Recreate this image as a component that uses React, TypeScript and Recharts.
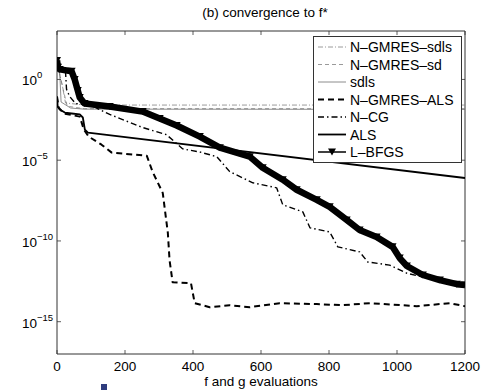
import React from 'react';
import { LineChart, Line, XAxis, YAxis, ReferenceArea, Legend } from 'recharts';

const FONT = '"Liberation Sans", Arial, Helvetica, sans-serif';

// layout constants (frame of the plot area)
const W = 489;
const H = 390;
const PLOT_LEFT = 57;
const PLOT_RIGHT = 465;
const PLOT_TOP = 31;
const PLOT_BOTTOM = 354;

const xTicks = [0, 200, 400, 600, 800, 1000, 1200];
const yTicks = [1, 1e-5, 1e-10, 1e-15];
const xDomain = [0, 1200];
const yDomain = [1e-17, 1e3];

const title = '(b) convergence to f*';
const xLabel = 'f and g evaluations';

// ---- series data (f and g evaluations, f - f*) ----
const ngmresSdlsEvals = [0, 5, 15, 25, 80, 1200];
const ngmresSdlsValues = [15.1, 3.5, 0.5, 0.035, 0.026, 0.026];

const ngmresSdEvals = [0, 5, 18, 30, 80, 1200];
const ngmresSdValues = [15.1, 3.5, 0.25, 0.022, 0.0155, 0.0155];

const sdlsEvals = [0, 8, 12, 40, 80, 1200];
const sdlsValues = [15.1, 2.5, 0.04, 0.017, 0.0145, 0.014];

const ngmresAlsEvals = [0, 5, 20, 67, 79, 93, 131, 161, 264, 281, 311, 326, 331, 340, 394, 405, 449, 508, 567, 655, 764, 840, 920, 1058, 1155, 1200];
const ngmresAlsValues = [0.087, 0.018, 7.8e-3, 5.0e-3, 7.8e-4, 2.9e-4, 9.1e-5, 2.95e-5, 1.9e-5, 1.95e-6, 9.5e-8, 3.2e-10, 6.6e-12, 2.8e-13, 2.45e-13, 1.41e-14, 7.9e-15, 1.05e-14, 7.9e-15, 1.41e-14, 1.23e-14, 1.05e-14, 1.41e-14, 9.1e-15, 1.41e-14, 9.1e-15];

const ncgEvals = [0, 25, 28, 37, 55, 100, 155, 252, 322, 370, 420, 470, 508, 576, 646, 664, 723, 744, 802, 826, 890, 914, 978, 1028, 1076, 1200];
const ncgValues = [15.1, 3.2, 0.25, 0.089, 0.032, 0.025, 6.8e-3, 1.05e-3, 3.8e-4, 5.0e-5, 3.2e-5, 1.66e-5, 1.95e-6, 4.0e-7, 1.95e-7, 1.74e-8, 6.3e-9, 6.5e-10, 3.6e-10, 4.3e-11, 2.1e-11, 5.0e-12, 3.2e-12, 1.02e-12, 5.8e-13, 1.86e-13];

const alsEvals = [0, 2, 8, 23, 43, 67, 76, 82, 91, 1200];
const alsValues = [0.087, 0.021, 0.0138, 8.9e-3, 7.8e-3, 6.8e-3, 4.4e-3, 7.9e-4, 5.1e-4, 7.9e-7];

const lbfgsEvals = [0, 3, 8, 43, 52, 61, 67, 81, 155, 252, 302, 352, 420, 479, 567, 605, 664, 705, 764, 802, 852, 890, 940, 987, 1008, 1029, 1076, 1126, 1176, 1200];
const lbfgsValues = [15.1, 5.6, 4.2, 3.2, 1.0, 0.21, 0.076, 0.032, 0.021, 0.0102, 3.8e-3, 1.4e-3, 2.9e-4, 6.0e-5, 1.66e-5, 3.4e-6, 6.2e-7, 1.48e-7, 3.5e-8, 1.29e-8, 2.0e-9, 4.8e-10, 1.78e-10, 4.3e-11, 8.7e-12, 2.8e-12, 7.8e-13, 3.8e-13, 2.1e-13, 1.86e-13];

const zip = (xs: number[], ys: number[]) => xs.map((x, i) => ({ x, y: ys[i] }));

type Series = {
  name: string;
  data: { x: number; y: number }[];
  stroke: string;
  width: number;
  dash?: string;
  legendWidth?: number;
  marker?: boolean;
};

const SERIES: Series[] = [
  { name: 'N–GMRES–sdls', data: zip(ngmresSdlsEvals, ngmresSdlsValues), stroke: '#808080', width: 0.8, dash: '5 2 1 2' },
  { name: 'N–GMRES–sd', data: zip(ngmresSdEvals, ngmresSdValues), stroke: '#808080', width: 0.8, dash: '4 3' },
  { name: 'sdls', data: zip(sdlsEvals, sdlsValues), stroke: '#707070', width: 0.8 },
  { name: 'N–GMRES–ALS', data: zip(ngmresAlsEvals, ngmresAlsValues), stroke: '#000', width: 2, dash: '6 4' },
  { name: 'N–CG', data: zip(ncgEvals, ncgValues), stroke: '#000', width: 1.4, dash: '6 3 1.5 3' },
  { name: 'ALS', data: zip(alsEvals, alsValues), stroke: '#000', width: 1.8 },
  { name: 'L–BFGS', data: zip(lbfgsEvals, lbfgsValues), stroke: '#000', width: 6.5, legendWidth: 1.5, marker: true },
];

const Triangle = (props: any) => {
  const { cx, cy, index } = props;
  if (cx == null || cy == null) return <g key={`e-${index}`} />;
  return (
    <path
      key={`t-${index}`}
      d={`M${cx - 4},${cy - 3.5} L${cx + 4},${cy - 3.5} L${cx},${cy + 3.5} Z`}
      fill="#000"
    />
  );
};

const XTick = (props: any) => {
  const { x, payload } = props;
  return (
    <g>
      <line x1={x} x2={x} y1={PLOT_BOTTOM} y2={PLOT_BOTTOM - 4} stroke="#333" strokeWidth={0.8} />
      <line x1={x} x2={x} y1={PLOT_TOP} y2={PLOT_TOP + 4} stroke="#333" strokeWidth={0.8} />
      <text x={x} y={371} textAnchor="middle" fontSize={13.5} fontFamily={FONT} fill="#000">
        {payload.value}
      </text>
    </g>
  );
};

const YTick = (props: any) => {
  const { y, payload } = props;
  const exp = Math.round(Math.log10(payload.value));
  const expText = exp < 0 ? `−${-exp}` : `${exp}`;
  return (
    <g>
      <line x1={PLOT_LEFT} x2={PLOT_LEFT + 4} y1={y} y2={y} stroke="#333" strokeWidth={0.8} />
      <line x1={PLOT_RIGHT} x2={PLOT_RIGHT - 4} y1={y} y2={y} stroke="#333" strokeWidth={0.8} />
      <text x={22} y={y + 6} fontSize={13.5} fontFamily={FONT} fill="#000">
        10
        <tspan dy={-7} fontSize={9.5}>{expText}</tspan>
      </text>
    </g>
  );
};

const LegendBox = () => {
  const rowH = 17.5;
  return (
    <svg width={150} height={128} style={{ display: 'block' }}>
      <rect x={0.5} y={0.5} width={148} height={126} fill="#fff" stroke="#333" strokeWidth={1} />
      {SERIES.map((s, i) => {
        const cy = 11 + i * rowH;
        return (
          <g key={s.name}>
            <line
              x1={5}
              x2={33}
              y1={cy}
              y2={cy}
              stroke={s.stroke}
              strokeWidth={s.legendWidth ?? s.width}
              strokeDasharray={s.dash}
            />
            {s.marker && (
              <path d={`M${19 - 4},${cy - 3.5} L${19 + 4},${cy - 3.5} L${19},${cy + 3.5} Z`} fill="#000" />
            )}
            <text x={37} y={cy + 5} fontSize={14} fontFamily={FONT} fill="#000">
              {s.name}
            </text>
          </g>
        );
      })}
    </svg>
  );
};

export default function App() {
  return (
    <div style={{ position: 'absolute', left: 0, top: 0, width: W, height: H, background: '#fff' }}>
      <LineChart
        width={W}
        height={H}
        margin={{ top: PLOT_TOP, right: W - PLOT_RIGHT, left: 0, bottom: 0 }}
      >
        <XAxis
          type="number"
          dataKey="x"
          domain={xDomain}
          ticks={xTicks}
          interval={0}
          height={H - PLOT_BOTTOM}
          axisLine={false}
          tickLine={false}
          tick={<XTick />}
          allowDataOverflow
        />
        <YAxis
          type="number"
          dataKey="y"
          scale="log"
          domain={yDomain}
          ticks={yTicks}
          interval={0}
          width={PLOT_LEFT}
          axisLine={false}
          tickLine={false}
          tick={<YTick />}
          allowDataOverflow
        />
        <ReferenceArea
          x1={xDomain[0]}
          x2={xDomain[1]}
          y1={yDomain[0]}
          y2={yDomain[1]}
          fill="none"
          stroke="#333"
          strokeWidth={1}
          ifOverflow="visible"
        />
        {SERIES.map((s) => (
          <Line
            key={s.name}
            name={s.name}
            data={s.data}
            dataKey="y"
            type="linear"
            stroke={s.stroke}
            strokeWidth={s.width}
            strokeDasharray={s.dash}
            strokeLinejoin="round"
            dot={s.marker ? <Triangle /> : false}
            activeDot={false}
            isAnimationActive={false}
          />
        ))}
        <Legend
          layout="vertical"
          align="center"
          verticalAlign="middle"
          wrapperStyle={{ left: 313, top: 36, width: 150, height: 128 }}
          content={() => <LegendBox />}
        />
        <text x={265} y={17} textAnchor="middle" fontSize={13.5} fontFamily={FONT} fill="#000">
          {title}
        </text>
        <text x={261} y={386} textAnchor="middle" fontSize={13.5} fontFamily={FONT} fill="#000">
          {xLabel}
        </text>
      </LineChart>
      <div style={{ position: 'absolute', left: 101, top: 384, width: 6, height: 6, background: '#2f3c7e' }} />
    </div>
  );
}
